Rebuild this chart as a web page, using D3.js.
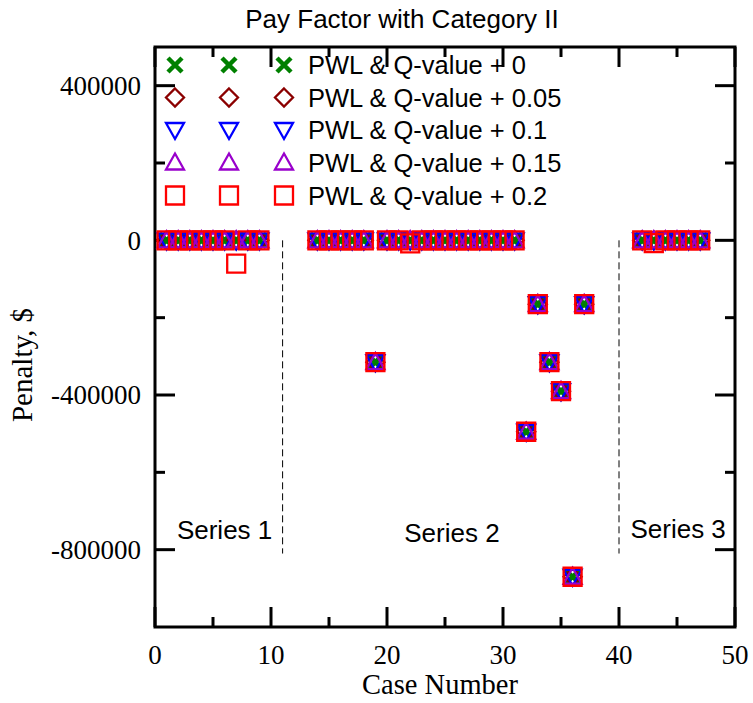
<!DOCTYPE html>
<html>
<head>
<meta charset="utf-8">
<script src="https://cdn.jsdelivr.net/npm/d3@7"></script>
<style>
  html, body { margin: 0; padding: 0; background: #fff; }
  svg { display: block; }
</style>
</head>
<body>
<svg id="chart" width="753" height="703"></svg>
<script>
// ---- data ----
const caseNumbers = [1,2,3,4,5,6,7,8,9,
  14,15,16,17,18,19,20,21,22,23,24,25,26,27,28,29,30,31,32,33,34,35,36,37,
  42,43,44,45,46,47];
const q000 = [0,0,0,0,0,0,0,0,0,
  0,0,0,0,0,-315000,0,0,0,0,0,0,0,0,0,0,0,0,-495000,-165000,-315000,-390000,-870000,-165000,
  0,0,0,0,0,0];
const q005 = [0,0,0,0,0,0,0,0,0,
  0,0,0,0,0,-315000,0,0,0,0,0,0,0,0,0,0,0,0,-495000,-165000,-315000,-390000,-870000,-165000,
  0,0,0,0,0,0];
const q010 = [0,0,0,0,0,0,0,0,0,
  0,0,0,0,0,-315000,0,0,0,0,0,0,0,0,0,0,0,0,-495000,-165000,-315000,-390000,-870000,-165000,
  0,0,0,0,0,0];
const q015 = [0,0,0,0,0,0,0,0,0,
  0,0,0,0,0,-315000,0,0,0,0,0,0,0,0,0,0,0,0,-495000,-165000,-315000,-390000,-870000,-165000,
  0,0,0,0,0,0];
const q020 = [0,0,0,0,0,0,-60000,0,0,
  0,0,0,0,0,-315000,0,0,-8000,0,0,0,0,0,0,0,0,0,-495000,-165000,-315000,-390000,-870000,-165000,
  0,-7000,0,0,0,0];
const seriesNames = ["PWL & Q-value + 0","PWL & Q-value + 0.05","PWL & Q-value + 0.1","PWL & Q-value + 0.15","PWL & Q-value + 0.2"];
const seriesValues = [q000, q005, q010, q015, q020];
const xTicks = [0,10,20,30,40,50];
const xMinorTicks = [5,15,25,35,45];
const yTicks = [400000,0,-400000,-800000];
const yMinorTicks = [200000,-200000,-600000];
const dividers = [11, 40];
const dividerRange = [0, -810000];
const groupLabels = ["Series 1","Series 2","Series 3"];
const groupLabelX = [6.0, 25.6, 45.1];

// ---- layout ----
const svg = d3.select("#chart");
const L = 155, R = 735, T = 47, B = 627;
const x = d3.scaleLinear().domain([0,50]).range([L,R]);
const y = d3.scaleLinear().domain([-1000000,500000]).range([B,T]);
const SANS = "'Liberation Sans', Arial, sans-serif";
const SERIF = "'Liberation Serif', 'Times New Roman', serif";

const styles = [
  {type:"x", color:"#008000"},
  {type:"diamond", color:"#8b0000"},
  {type:"down", color:"#0000ff"},
  {type:"up", color:"#9900cc"},
  {type:"square", color:"#ff0000"}
];

function markerPath(type){
  const s = 9;
  switch(type){
    case "x": return `M${-7},${-7}L7,7M${-7},7L7,${-7}`;
    case "diamond": return `M0,${-s}L${s},0L0,${s}L${-s},0Z`;
    case "down": return `M${-s},${-7}L${s},${-7}L0,${9}Z`;
    case "up": return `M${-s},7L${s},7L0,${-9}Z`;
    case "square": return `M${-s},${-s}H${s}V${s}H${-s}Z`;
  }
}
function drawMarker(g, type, color, cx, cy){
  g.append("path")
    .attr("d", markerPath(type))
    .attr("transform", `translate(${cx},${cy})`)
    .attr("fill","none")
    .attr("stroke", color)
    .attr("stroke-width", type==="x" ? 4.5 : 2.3);
}

// axes frame (drawn first so markers sit on top)
const axes = svg.append("g").attr("stroke","#000").attr("stroke-width",3);
axes.append("rect").attr("x",L).attr("y",T).attr("width",R-L).attr("height",B-T).attr("fill","none");
const majorLen = 20, minorLen = 10;
xTicks.forEach(t => {
  axes.append("line").attr("x1",x(t)).attr("x2",x(t)).attr("y1",B).attr("y2",B-majorLen);
  axes.append("line").attr("x1",x(t)).attr("x2",x(t)).attr("y1",T).attr("y2",T+majorLen);
});
xMinorTicks.forEach(t => {
  axes.append("line").attr("x1",x(t)).attr("x2",x(t)).attr("y1",B).attr("y2",B-minorLen);
  axes.append("line").attr("x1",x(t)).attr("x2",x(t)).attr("y1",T).attr("y2",T+minorLen);
});
yTicks.forEach(t => {
  axes.append("line").attr("x1",L).attr("x2",L+majorLen).attr("y1",y(t)).attr("y2",y(t));
  axes.append("line").attr("x1",R).attr("x2",R-majorLen).attr("y1",y(t)).attr("y2",y(t));
});
yMinorTicks.forEach(t => {
  axes.append("line").attr("x1",L).attr("x2",L+minorLen).attr("y1",y(t)).attr("y2",y(t));
  axes.append("line").attr("x1",R).attr("x2",R-minorLen).attr("y1",y(t)).attr("y2",y(t));
});

// title
svg.append("text").attr("x", 402).attr("y", 28).attr("text-anchor","middle")
  .attr("font-family", SANS).attr("font-size", 26).text("Pay Factor with Category II");

// divider lines
dividers.forEach(d => {
  svg.append("line").attr("x1", x(d)).attr("x2", x(d))
    .attr("y1", y(dividerRange[0])).attr("y2", y(dividerRange[1]))
    .attr("stroke","#000").attr("stroke-width",1).attr("stroke-dasharray","7,4");
});

// group labels
groupLabels.forEach((t,i) => {
  svg.append("text").attr("x", x(groupLabelX[i])).attr("y", i===2 ? 538 : (i===1 ? 542 : 539))
    .attr("text-anchor","middle").attr("font-family", SANS).attr("font-size", 26).text(t);
});

// data points
const pts = svg.append("g");
styles.forEach((st, si) => {
  const vals = seriesValues[si];
  caseNumbers.forEach((c, i) => {
    drawMarker(pts, st.type, st.color, x(c), y(vals[i]));
  });
});

// legend
const legend = svg.append("g");
const legendRowY = [65, 97.5, 130, 162.5, 195.5];
const legendColX = [175, 229, 284];
styles.forEach((st, si) => {
  legendColX.forEach(cx => drawMarker(legend, st.type, st.color, cx, legendRowY[si]));
  legend.append("text").attr("x", 308).attr("y", legendRowY[si]).attr("dy","0.36em")
    .attr("font-family", SANS).attr("font-size", 25.5).text(seriesNames[si]);
});

// tick labels
xTicks.forEach(t => {
  svg.append("text").attr("x", x(t)).attr("y", 664).attr("text-anchor","middle")
    .attr("font-family", SERIF).attr("font-size", 27).text(d3.format("d")(t));
});
yTicks.forEach(t => {
  svg.append("text").attr("x", 141).attr("y", y(t)).attr("dy","0.35em").attr("text-anchor","end")
    .attr("font-family", SERIF).attr("font-size", 27).text(d3.format("d")(t).replace("−","-"));
});

// axis titles
svg.append("text").attr("x", 440).attr("y", 694).attr("text-anchor","middle")
  .attr("font-family", SERIF).attr("font-size", 28.5).text("Case Number");
svg.append("text").attr("transform","translate(32,365) rotate(-90)").attr("text-anchor","middle")
  .attr("font-family", SERIF).attr("font-size", 29).text("Penalty, $");
</script>
</body>
</html>
